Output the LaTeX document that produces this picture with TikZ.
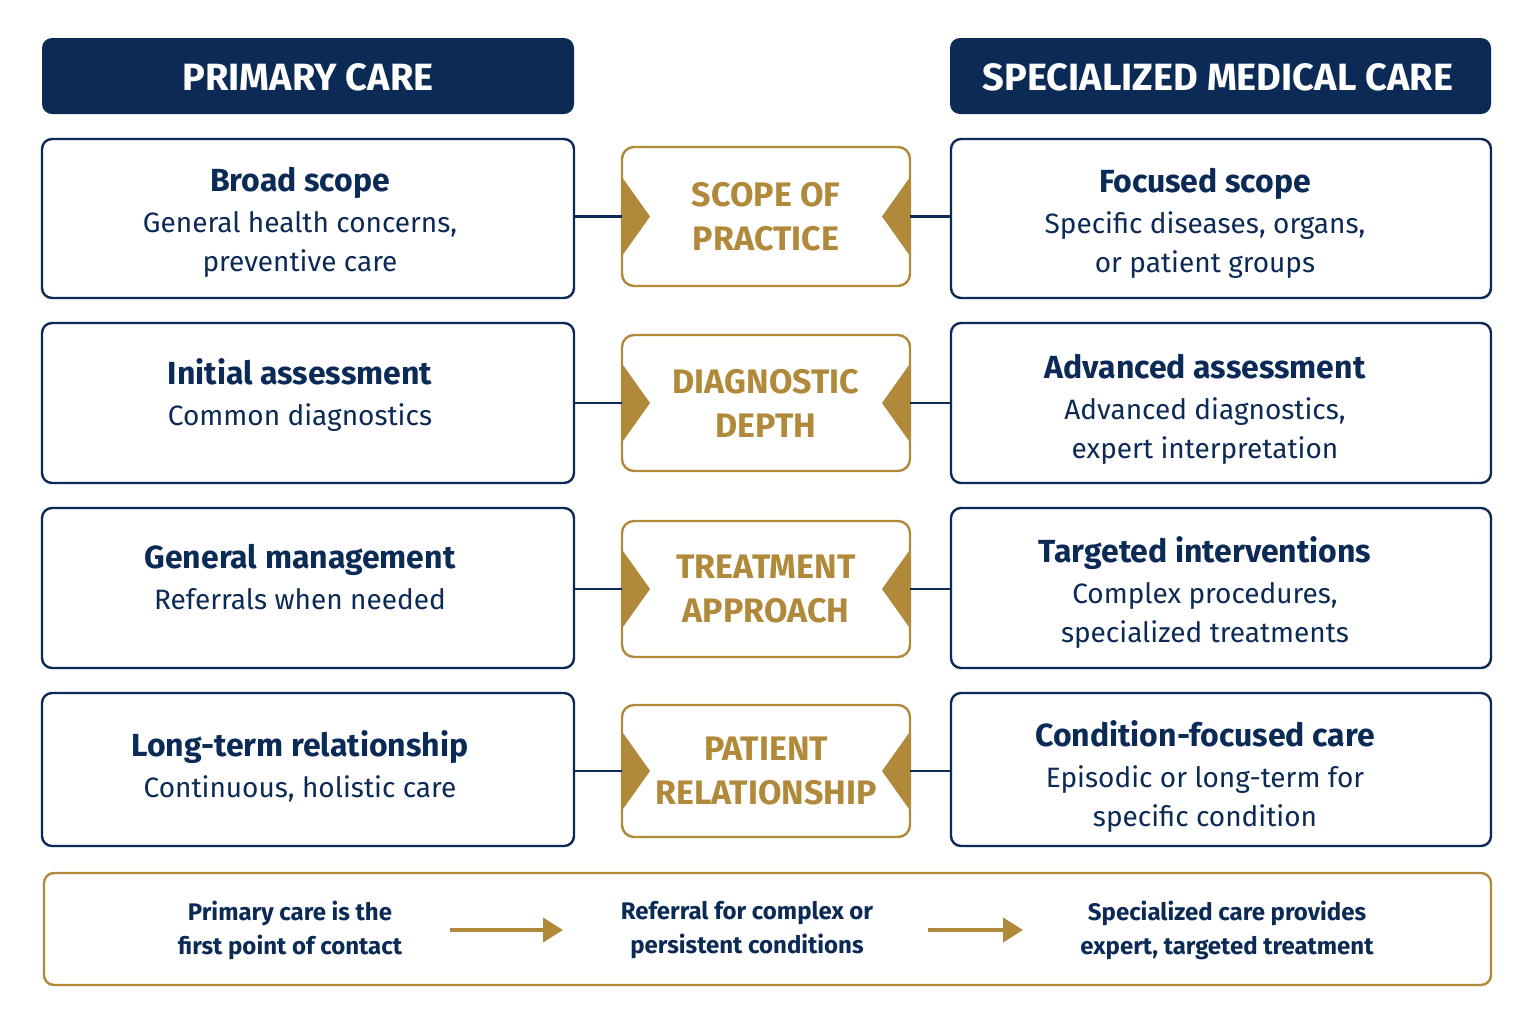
\documentclass[tikz,border=0pt]{standalone}
\usepackage{fontspec}
\setmainfont{Fira Sans}
\usetikzlibrary{arrows.meta}
\begin{document}
\definecolor{navy}{HTML}{0B2A55}
\definecolor{gold}{HTML}{B08A3A}
\begin{tikzpicture}[x=0.5pt,y=-0.5pt,
 hdr/.style={fill=navy,rounded corners=5pt,text=white,font=\fontsize{19}{22}\selectfont\bfseries},
 box/.style={draw=navy,line width=1.2pt,rounded corners=5pt,fill=white},
 cbox/.style={draw=gold,line width=1.2pt,rounded corners=6pt,fill=white},
 ttl/.style={text=navy,font=\fontsize{16}{19}\selectfont\bfseries,align=center},
 sub/.style={text=navy,font=\fontsize{14}{19.5}\selectfont,align=center},
 ctx/.style={text=gold,font=\fontsize{17}{22}\selectfont\bfseries,align=center},
 btx/.style={text=navy,font=\fontsize{12}{17}\selectfont\bfseries,align=center},
 conn/.style={draw=navy,line width=1.2pt},
 garr/.style={draw=gold,line width=2pt,-{Triangle[length=10pt,width=12pt]}}]
\useasboundingbox[fill=white] (0,0) rectangle (1536,1024);
\fill[hdr] (42,38) rectangle (574,114);
\node[hdr] (h1) at (308,77) {PRIMARY CARE};
\fill[hdr] (950,38) rectangle (1491,114);
\node[hdr] (h2) at (1218,77) {SPECIALIZED MEDICAL CARE};
\foreach \i/\ya/\yb/\ca/\cb/\lt/\ls/\ct/\rt/\rs/\lty/\rty in {
 1/139/298/147/286/{Broad scope}/{General health concerns,\\preventive care}/{SCOPE OF\\PRACTICE}/{Focused scope}/{Specific diseases, organs,\\or patient groups}/180/181,
 2/323/483/335/471/{Initial assessment}/{Common diagnostics}/{DIAGNOSTIC\\DEPTH}/{Advanced assessment}/{Advanced diagnostics,\\expert interpretation}/373/367,
 3/508/668/521/657/{General management}/{Referrals when needed}/{TREATMENT\\APPROACH}/{Targeted interventions}/{Complex procedures,\\specialized treatments}/557/551,
 4/693/846/705/837/{Long-term relationship}/{Continuous, holistic care}/{PATIENT\\RELATIONSHIP}/{Condition-focused care}/{Episodic or long-term for\\specific condition}/745/735}{
 \pgfmathsetmacro\cy{(\ca+\cb)/2}
 \draw[box] (42,\ya) rectangle (574,\yb);
 \draw[box] (951,\ya) rectangle (1491,\yb);
 \draw[cbox] (622,\ca) rectangle (910,\cb);
 \coordinate (la\i) at (574,\cy); \coordinate (lb\i) at (622,\cy);
 \coordinate (ra\i) at (910,\cy); \coordinate (rb\i) at (951,\cy);
 \draw[conn] (la\i) -- (lb\i); \draw[conn] (ra\i) -- (rb\i);
 \fill[gold] (623,\cy-38) -- (650,\cy) -- (623,\cy+38) -- cycle;
 \fill[gold] (909,\cy-38) -- (882,\cy) -- (909,\cy+38) -- cycle;
 \node[ctx] (c\i) at (766,\cy) {\ct};
 \node[ttl,anchor=base] (lt\i) at (300,\lty+11) {\lt};
 \node[sub,anchor=north] (ls\i) at (300,\lty+24) {\ls};
 \node[ttl,anchor=base] (rt\i) at (1205,\rty+11) {\rt};
 \node[sub,anchor=north] (rs\i) at (1205,\rty+24) {\rs};
}
\draw[cbox,rounded corners=5pt] (44,873) rectangle (1491,985);
\node[btx] (b1) at (290,930) {Primary care is the\\first point of contact};
\node[btx] (b2) at (747,930) {Referral for complex or\\persistent conditions};
\node[btx] (b3) at (1227,930) {Specialized care provides\\expert, targeted treatment};
\coordinate (a1) at (450,930); \coordinate (a2) at (563,930);
\coordinate (a3) at (928,930); \coordinate (a4) at (1023,930);
\draw[garr] (a1) -- (a2);
\draw[garr] (a3) -- (a4);
\end{tikzpicture}
\end{document}
